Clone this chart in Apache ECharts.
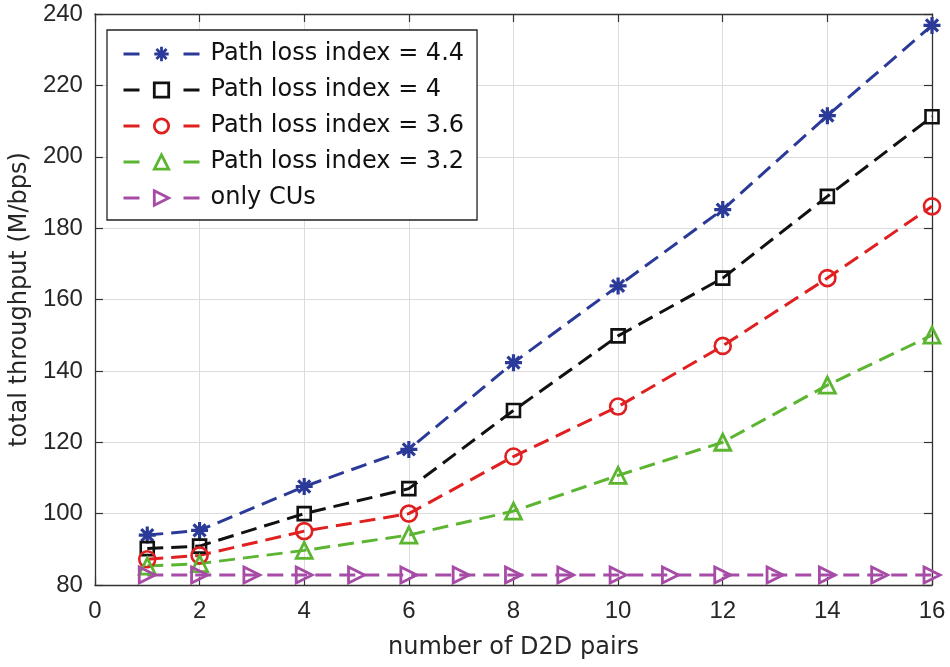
<!DOCTYPE html>
<html>
<head>
<meta charset="utf-8">
<script src="https://cdn.jsdelivr.net/npm/echarts@6/dist/echarts.min.js"></script>
<style>
  html, body { margin: 0; padding: 0; background: #fff; }
  #chart { width: 950px; height: 667px; }
</style>
</head>
<body>
<div id="chart"></div>
<script>
// D2D pairs on x
var pairs = [1, 2, 4, 6, 8, 10, 12, 14, 16]
var pl44 = [94, 95.3, 107.6, 118, 142.3, 163.8, 185.2, 211.5, 236.8]
var pl40 = [90.2, 90.9, 100, 107, 128.9, 149.8, 166, 188.9, 211.2]
var pl36 = [87.2, 88.3, 95.1, 100, 116, 130, 147, 166, 186.1]
var pl32 = [85.3, 86, 89.7, 94, 100.7, 110.7, 120, 136, 150]
// only CUs baseline, one mark per integer pair count
var cuPairs = [1, 2, 3, 4, 5, 6, 7, 8, 9, 10, 11, 12, 13, 14, 15, 16]
var cuVals = [82.8, 82.8, 82.8, 82.8, 82.8, 82.8, 82.8, 82.8, 82.8, 82.8, 82.8, 82.8, 82.8, 82.8, 82.8, 82.8]
var names = ['Path loss index = 4.4', 'Path loss index = 4', 'Path loss index = 3.6', 'Path loss index = 3.2', 'only CUs']

function zip(xs, ys) {
    var out = []
    for (var i = 0; i < xs.length; i++) out.push([xs[i], ys[i]])
    return out
}

var NUMFONT = '"Liberation Sans", Arial, sans-serif'
var TXTFONT = '"DejaVu Sans", sans-serif'
var TXT = '#262626'
var star = 'path://M0,-10L0,10M-10,0L10,0M-7.07,-7.07L7.07,7.07M-7.07,7.07L7.07,-7.07'

// hollow markers: transparent fill, the dashed line shows through like matlab
function mk(name, data, color, symbol, size, bw, rot) {
    return {
        name: name,
        type: 'line',
        data: data,
        symbol: symbol,
        symbolSize: size,
        symbolRotate: rot || 0,
        symbolKeepAspect: true,
        showAllSymbol: true,
        lineStyle: { color: color, width: 3, type: [16, 8] },
        itemStyle: { color: 'rgba(0,0,0,0)', borderColor: color, borderWidth: bw },
        emphasis: { disabled: true },
        z: 3
    }
}

// box axes: ticks inside on all four sides
var tickStyle = { show: true, inside: true, length: 8, lineStyle: { color: '#333', width: 1.2 } }
var lineStyle = { show: true, onZero: false, lineStyle: { color: '#333', width: 1.3 } }

var chart = echarts.init(document.getElementById('chart'))
var option = {
    animation: false,
    backgroundColor: '#fff',
    grid: { left: 92, right: 18, top: 14, bottom: 82 },
    legend: {
        data: names,
        orient: 'vertical',
        left: 107,
        top: 30,
        itemWidth: 76,
        itemHeight: 18,
        itemGap: 12,
        padding: [12, 13, 10, 15],
        backgroundColor: '#fff',
        borderColor: '#222',
        borderWidth: 1.3,
        lineStyle: { type: [16, 44], width: 3 },
        itemStyle: { borderWidth: 2.8 },
        textStyle: { fontSize: 24, color: '#111', fontFamily: TXTFONT, padding: [0, 0, 0, 6] },
        z: 10
    },
    xAxis: [{
        type: 'value',
        min: 0, max: 16, interval: 2,
        name: 'number of D2D pairs',
        nameLocation: 'middle',
        nameGap: 51,
        nameTextStyle: { fontSize: 24, color: TXT, fontFamily: TXTFONT },
        axisLine: lineStyle,
        axisTick: tickStyle,
        axisLabel: { fontSize: 24, color: TXT, margin: 14, fontFamily: NUMFONT },
        splitLine: { show: true, lineStyle: { color: '#dcdcdc', width: 1 } }
    }, {
        type: 'value',
        position: 'top',
        min: 0, max: 16, interval: 2,
        axisLine: lineStyle,
        axisTick: tickStyle,
        axisLabel: { show: false },
        splitLine: { show: false }
    }],
    yAxis: [{
        type: 'value',
        min: 80, max: 240, interval: 20,
        name: 'total throughput (M/bps)',
        nameLocation: 'middle',
        nameGap: 62,
        nameTextStyle: { fontSize: 24, color: TXT, fontFamily: TXTFONT },
        axisLine: lineStyle,
        axisTick: tickStyle,
        axisLabel: { fontSize: 24, color: TXT, margin: 12, fontFamily: NUMFONT },
        splitLine: { show: true, lineStyle: { color: '#dcdcdc', width: 1 } }
    }, {
        type: 'value',
        position: 'right',
        min: 80, max: 240, interval: 20,
        axisLine: lineStyle,
        axisTick: tickStyle,
        axisLabel: { show: false },
        splitLine: { show: false }
    }],
    series: [
        mk(names[0], zip(pairs, pl44), '#2b3a98', star, 17, 3.2),
        mk(names[1], zip(pairs, pl40), '#111111', 'rect', 13, 2.6),
        mk(names[2], zip(pairs, pl36), '#e02020', 'circle', 16, 2.6),
        mk(names[3], zip(pairs, pl32), '#5cb531', 'triangle', 16, 2.8),
        mk(names[4], zip(cuPairs, cuVals), '#a64ca6', 'triangle', 16, 2.8, -90)
    ]
}
chart.setOption(option)
</script>
</body>
</html>
